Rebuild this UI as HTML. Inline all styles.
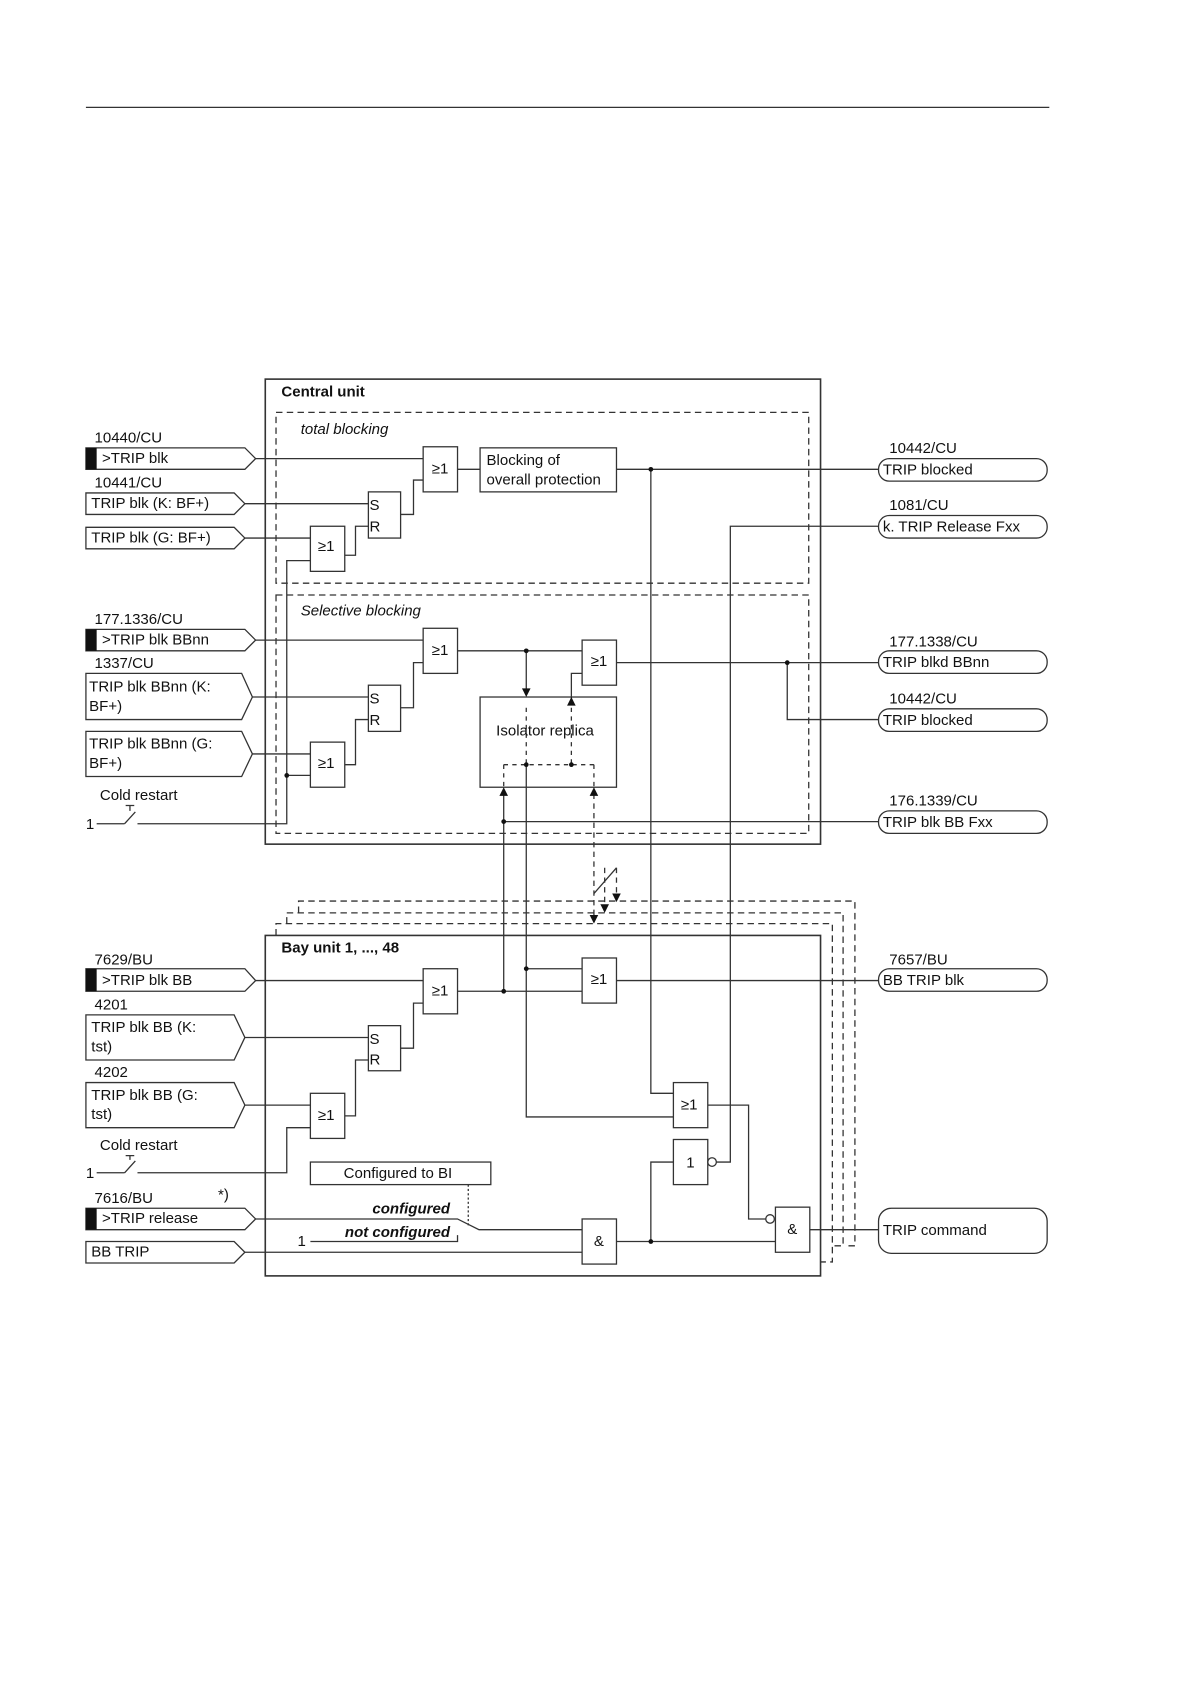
<!DOCTYPE html>
<html><head><meta charset="utf-8"><style>
html,body{margin:0;padding:0;background:#fff;width:1190px;height:1684px;overflow:hidden}
svg{display:block}
text{font-family:"Liberation Sans",Arial,sans-serif;font-size:14px;fill:#111}
.b{font-weight:bold}.i{font-style:italic}
</style></head><body>
<svg width="1190" height="1684" viewBox="0 0 1108 1568" preserveAspectRatio="none" xmlns="http://www.w3.org/2000/svg">
<g fill="none" stroke="#333" stroke-width="1.2">
<line x1="80" y1="100" x2="977" y2="100"/>
<rect x="247" y="353" width="517" height="433" stroke-width="1.5"/>
<rect x="257" y="384" width="496" height="159" stroke-dasharray="6,4"/>
<rect x="257" y="554" width="496" height="222" stroke-dasharray="6,4"/>
<path d="M278 850 V839 H796 V1160 H786" stroke-dasharray="6,4"/>
<path d="M267 860 V850 H785 V1160 H775" stroke-dasharray="6,4"/>
<path d="M257 871 V860 H775 V1175 H764" stroke-dasharray="6,4"/>
<rect x="247" y="871" width="517" height="317" stroke-width="1.5" fill="#fff"/>

<path d="M80 417 H228 L238 427 L228 437 H80 Z"/>
<path d="M80 459 H218 L228 469 L218 479 H80 Z"/>
<path d="M80 491 H218 L228 501 L218 511 H80 Z"/>
<path d="M80 586 H228 L238 596 L228 606 H80 Z"/>
<path d="M80 627 H225 L235 649 L225 670 H80 Z"/>
<path d="M80 681 H225 L235 702 L225 723 H80 Z"/>
<path d="M80 902 H228 L238 913 L228 923 H80 Z"/>
<path d="M80 945 H218 L228 966 L218 987 H80 Z"/>
<path d="M80 1008 H218 L228 1029 L218 1050 H80 Z"/>
<path d="M80 1125 H228 L238 1135 L228 1145 H80 Z"/>
<path d="M80 1156 H218 L228 1166 L218 1176 H80 Z"/>
<rect x="818" y="427" width="157" height="21" rx="10"/>
<rect x="818" y="480" width="157" height="21" rx="10"/>
<rect x="818" y="606" width="157" height="21" rx="10"/>
<rect x="818" y="660" width="157" height="21" rx="10"/>
<rect x="818" y="755" width="157" height="21" rx="10"/>
<rect x="818" y="902" width="157" height="21" rx="10"/>
<rect x="818" y="1125" width="157" height="42" rx="12"/>

<rect x="394" y="416" width="32" height="42"/>
<rect x="447" y="417" width="127" height="41"/>
<rect x="343" y="458" width="30" height="43"/>
<rect x="289" y="490" width="32" height="42"/>
<rect x="394" y="585" width="32" height="42"/>
<rect x="542" y="596" width="32" height="42"/>
<rect x="343" y="638" width="30" height="43"/>
<rect x="289" y="691" width="32" height="42"/>
<rect x="447" y="649" width="127" height="84"/>
<rect x="394" y="902" width="32" height="42"/>
<rect x="542" y="892" width="32" height="42"/>
<rect x="343" y="955" width="30" height="42"/>
<rect x="289" y="1018" width="32" height="42"/>
<rect x="627" y="1008" width="32" height="42"/>
<rect x="627" y="1061" width="32" height="42"/>
<rect x="542" y="1135" width="32" height="42"/>
<rect x="722" y="1124" width="32" height="42"/>
<rect x="289" y="1082" width="168" height="21"/>
<circle cx="663" cy="1082" r="4"/>
<circle cx="717" cy="1135" r="4"/>

<path d="M238 427 H394"/>
<path d="M228 469 H343"/>
<path d="M373 479 H385 V447 H394"/>
<path d="M228 501 H289"/>
<path d="M321 517 H331 V490 H343"/>
<path d="M426 437 H447"/>
<path d="M574 437 H818"/>
<path d="M606 437 V1018 H627"/>
<path d="M818 490 H680 V1082 H667"/>
<path d="M90 767 H116 M116 767 L126 756 M121 755 V750 M117 750 H125 M128 767 H267 V522 H289"/>
<path d="M267 722 H289"/>
<path d="M238 596 H394"/>
<path d="M235 649 H343"/>
<path d="M373 659 H385 V617 H394"/>
<path d="M235 702 H289"/>
<path d="M321 712 H331 V670 H343"/>
<path d="M426 606 H542"/>
<path d="M490 606 V643"/>
<path d="M532 655 V627 H542"/>
<path d="M574 617 H818"/>
<path d="M733 617 V670 H818"/>
<path d="M490 712 V1040 H627"/>
<path d="M490 902 H542"/>
<path d="M469 739 V923"/>
<path d="M469 765 H818"/>
<path d="M490 659 V712 M532 659 V712 M469 712 H553 M469 712 V733 M553 712 V733" stroke-dasharray="4,4"/>
<path d="M553 739 V852 M563 808 V842 M574 808 V832" stroke-dasharray="5,4"/>
<path d="M553 832 L574 808"/>
<path d="M238 913 H394"/>
<path d="M426 923 H542"/>
<path d="M228 966 H343"/>
<path d="M373 976 H385 V934 H394"/>
<path d="M228 1029 H289"/>
<path d="M321 1039 H331 V987 H343"/>
<path d="M574 913 H818"/>
<path d="M90 1092 H116 M116 1092 L126 1081 M121 1080 V1076 M117 1076 H125 M128 1092 H267 V1050 H289"/>
<path d="M659 1029 H697 V1135 H713"/>
<path d="M627 1082 H606 V1156"/>
<path d="M574 1156 H722"/>
<path d="M754 1145 H818"/>
<path d="M238 1135 H426 L446 1145 H542"/>
<path d="M289 1156 H426 V1150"/>
<path d="M228 1166 H542"/>
<path d="M436 1103 V1141" stroke-dasharray="2,2"/>
</g>
<g fill="#111">
<polygon points="486,641 494,641 490,649"/>
<polygon points="528,657 536,657 532,649"/>
<polygon points="465,741 473,741 469,733"/>
<polygon points="549,741 557,741 553,733"/>
<polygon points="549,852 557,852 553,860"/>
<polygon points="559,842 567,842 563,850"/>
<polygon points="570,832 578,832 574,840"/>
<circle cx="606" cy="437" r="2.2"/><circle cx="490" cy="606" r="2.2"/>
<circle cx="733" cy="617" r="2.2"/><circle cx="267" cy="722" r="2.2"/>
<circle cx="469" cy="765" r="2.2"/><circle cx="490" cy="712" r="2.2"/>
<circle cx="532" cy="712" r="2.2"/><circle cx="469" cy="923" r="2.2"/>
<circle cx="490" cy="902" r="2.2"/><circle cx="606" cy="1156" r="2.2"/>
<rect x="80" y="417" width="10" height="20"/><rect x="80" y="586" width="10" height="20"/>
<rect x="80" y="902" width="10" height="21"/><rect x="80" y="1125" width="10" height="20"/>
</g>
<g>
<text x="262" y="369" class="b">Central unit</text>
<text x="280" y="404" class="i">total blocking</text>
<text x="280" y="573" class="i">Selective blocking</text>
<text x="262" y="887" class="b">Bay unit 1, ..., 48</text>
<text x="88" y="412">10440/CU</text><text x="95" y="431">&gt;TRIP blk</text>
<text x="88" y="454">10441/CU</text><text x="85" y="473">TRIP blk (K: BF+)</text>
<text x="85" y="505">TRIP blk (G: BF+)</text>
<text x="88" y="581">177.1336/CU</text><text x="95" y="600">&gt;TRIP blk BBnn</text>
<text x="88" y="622">1337/CU</text><text x="83" y="644">TRIP blk BBnn (K:</text><text x="83" y="662">BF+)</text>
<text x="83" y="697">TRIP blk BBnn (G:</text><text x="83" y="715">BF+)</text>
<text x="93" y="745">Cold restart</text><text x="80" y="772">1</text>
<text x="402" y="441">≥1</text><text x="453" y="433">Blocking of</text><text x="453" y="451">overall protection</text>
<text x="344" y="475">S</text><text x="344" y="495">R</text><text x="296" y="513">≥1</text>
<text x="402" y="610">≥1</text><text x="550" y="620">≥1</text>
<text x="344" y="655">S</text><text x="344" y="675">R</text><text x="296" y="715">≥1</text>
<text x="462" y="685">Isolator replica</text>
<text x="828" y="422">10442/CU</text><text x="822" y="442">TRIP blocked</text>
<text x="828" y="475">1081/CU</text><text x="822" y="495">k. TRIP Release Fxx</text>
<text x="828" y="602">177.1338/CU</text><text x="822" y="621">TRIP blkd BBnn</text>
<text x="828" y="655">10442/CU</text><text x="822" y="675">TRIP blocked</text>
<text x="828" y="750">176.1339/CU</text><text x="822" y="770">TRIP blk BB Fxx</text>
<text x="828" y="898">7657/BU</text><text x="822" y="917">BB TRIP blk</text>
<text x="822" y="1150">TRIP command</text>
<text x="88" y="898">7629/BU</text><text x="95" y="917">&gt;TRIP blk BB</text>
<text x="88" y="940">4201</text><text x="85" y="961">TRIP blk BB (K:</text><text x="85" y="979">tst)</text>
<text x="88" y="1003">4202</text><text x="85" y="1024">TRIP blk BB (G:</text><text x="85" y="1042">tst)</text>
<text x="93" y="1071">Cold restart</text><text x="80" y="1097">1</text>
<text x="88" y="1120">7616/BU</text><text x="203" y="1117">*)</text>
<text x="95" y="1139">&gt;TRIP release</text><text x="85" y="1170">BB TRIP</text>
<text x="402" y="927">≥1</text><text x="550" y="916">≥1</text>
<text x="344" y="972">S</text><text x="344" y="991">R</text><text x="296" y="1043">≥1</text>
<text x="634" y="1033">≥1</text><text x="639" y="1087">1</text>
<text x="553" y="1160">&amp;</text><text x="733" y="1149">&amp;</text>
<text x="320" y="1097">Configured to BI</text>
<text x="419" y="1130" class="b i" text-anchor="end">configured</text>
<text x="419" y="1152" class="b i" text-anchor="end">not configured</text>
<text x="277" y="1160">1</text>
</g>
</svg>
</body></html>
